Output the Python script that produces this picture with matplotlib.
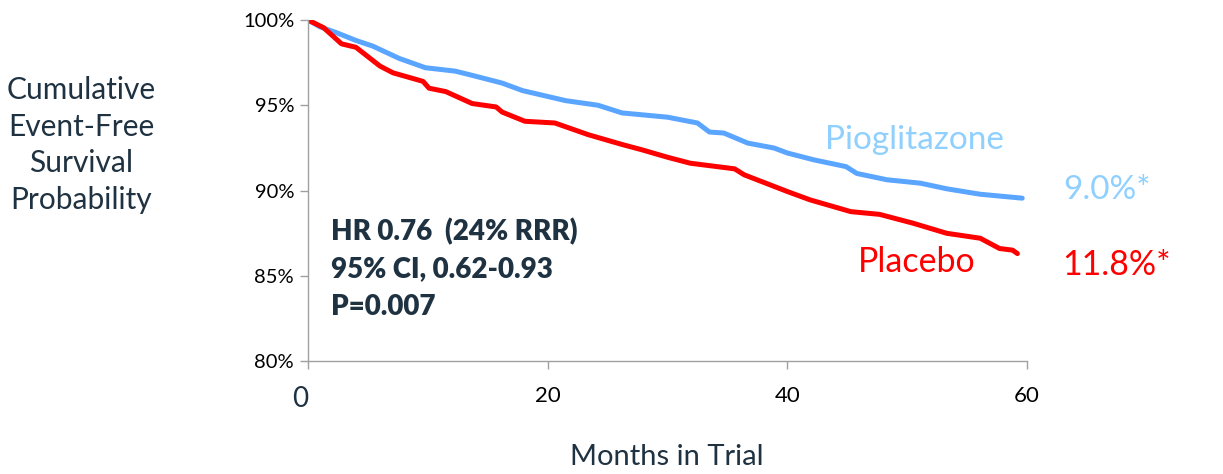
import numpy as np
import matplotlib
matplotlib.use("Agg")
import matplotlib.pyplot as plt

# Kaplan-Meier style curves (months, survival %)
pio_months = [0, 1, 2.4, 4, 5.4, 7.6, 9.8, 12.3, 14, 16.2, 17.9, 21.5, 24.2, 26.2, 30,
              32.5, 33.5, 34.7, 36.7, 38.9, 40, 42.2, 44.9, 45.8, 48.3, 51.1, 53.3, 56.1, 59.6]
pio_surv = [100, 99.6, 99.25, 98.8, 98.47, 97.75, 97.2, 97.0, 96.7, 96.3, 95.86, 95.27, 95.0, 94.55, 94.3,
            93.96, 93.43, 93.37, 92.78, 92.49, 92.2, 91.8, 91.4, 91.0, 90.63, 90.43, 90.1, 89.78, 89.55]

pla_months = [0, 1.3, 2.8, 4.0, 6.0, 7.1, 9.6, 10.1, 11.5, 13.7, 15.7, 16.2, 18.1, 20.6, 23.4, 26.2,
              27.8, 30, 31.9, 35.6, 36.4, 40, 41.9, 45.3, 47.7, 50.5, 53.3, 56.1, 57.7, 58.8, 59.2]
pla_surv = [100, 99.55, 98.6, 98.4, 97.3, 96.9, 96.4, 96.0, 95.8, 95.1, 94.9, 94.6, 94.06, 93.96, 93.27, 92.7,
            92.4, 91.95, 91.6, 91.27, 90.92, 89.94, 89.45, 88.76, 88.6, 88.08, 87.49, 87.2, 86.6, 86.5, 86.3]

x_ticks = [0, 20, 40, 60]
x_ticklabels = ["", "20", "40", "60"]
y_ticks = [80, 85, 90, 95, 100]
y_ticklabels = ["80%", "85%", "90%", "95%", "100%"]
stats_lines = ["HR 0.76  (24% RRR)", "95% CI, 0.62-0.93", "P=0.007"]

W, H = 1223, 474
DARK = "#1f3241"
BLUE = "#5aa5ff"
LIGHT_BLUE = "#8fd0ff"
RED = "#ff0000"

plt.rcParams["font.family"] = ["Lato", "DejaVu Sans"]

fig = plt.figure(figsize=(W / 100, H / 100), dpi=100)
ax = fig.add_axes([308 / W, 1 - 361 / H, (1027 - 308) / W, (361 - 20) / H])


def ftext(x, y, s, **kw):
    fig.text(x / W, 1 - y / H, s, **kw)


ax.plot(pio_months, pio_surv, color=BLUE, lw=3.6, solid_joinstyle="round", solid_capstyle="round")
ax.plot(pla_months, pla_surv, color=RED, lw=3.6, solid_joinstyle="round", solid_capstyle="round")

ax.set_xlim(0, 60)
ax.set_ylim(80, 100)
ax.set_xticks(x_ticks)
ax.set_xticklabels(x_ticklabels)
ax.set_yticks(y_ticks)
ax.set_yticklabels(y_ticklabels)
for side in ["top", "right"]:
    ax.spines[side].set_visible(False)
for side in ["left", "bottom"]:
    ax.spines[side].set_color("#a0a0a0")
    ax.spines[side].set_linewidth(1.0)
ax.tick_params(axis="both", color="#a0a0a0", width=1.0, length=6, labelcolor="black")
ax.tick_params(axis="y", labelsize=14.5, pad=4)
ax.tick_params(axis="x", labelsize=16, pad=12)

ftext(300, 399, "0", ha="center", va="center", fontsize=20, color=DARK)
ftext(667, 457, "Months in Trial", ha="center", va="center", fontsize=21, color=DARK)
ftext(81, 145, "Cumulative\nEvent-Free\nSurvival\nProbability", ha="center", va="center",
      fontsize=21.5, color=DARK, linespacing=1.38)

for i, line in enumerate(stats_lines):
    ftext(331, 232 + i * 37.5, line, ha="left", va="center", fontsize=20,
          fontweight="heavy", color=DARK)

ftext(825, 140, "Pioglitazone", ha="left", va="center", fontsize=24, color=LIGHT_BLUE)
ftext(858, 262, "Placebo", ha="left", va="center", fontsize=24.5, color=RED)
ftext(1063, 190, "9.0%*", ha="left", va="center", fontsize=24, color=LIGHT_BLUE)
ftext(1062, 265, "11.8%*", ha="left", va="center", fontsize=24.5, color=RED)

fig.savefig("out.png", dpi=100)
